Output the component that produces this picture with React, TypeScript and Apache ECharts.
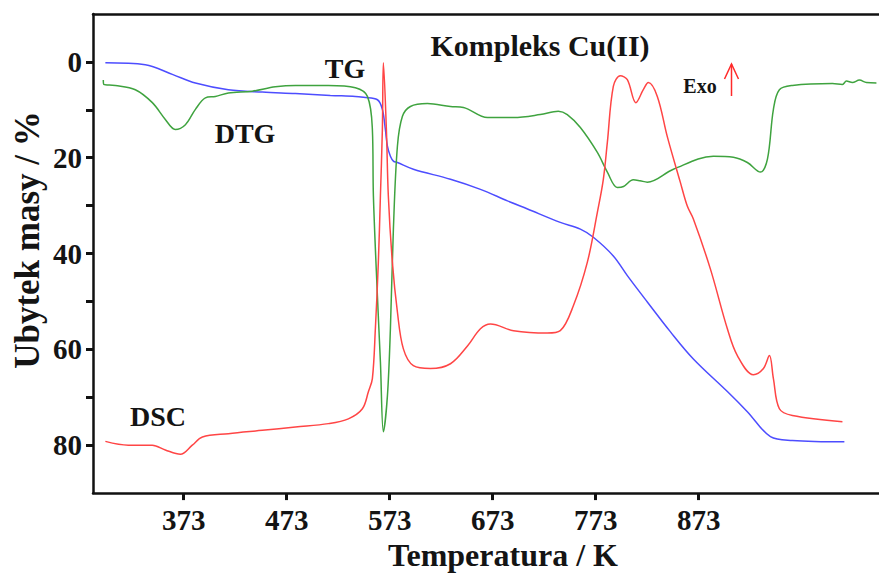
import React, { useEffect, useRef } from "react";
import * as echarts from "echarts";

// Temperature (K) and values (y-axis units, % mass loss scale)
const tgT = [297, 335.8, 362, 384.4, 416.4, 449.4, 481.5, 515.4, 539.7, 547.5, 561.1, 565.9, 568.8, 570.8, 573.7, 576.6, 580.5, 596, 632, 661.1, 687.3, 706.8, 738.6, 758.1, 770.7, 790.1, 803.7, 823.1, 845.4, 867.8, 900.8, 920.2, 942.6, 963.9, 1014.4];
const tgV = [0.2, 0.6, 2.6, 4.4, 5.8, 6.3, 6.6, 7.0, 7.2, 7.4, 7.9, 9.9, 14.1, 17.6, 19.7, 20.7, 21.0, 22.4, 24.5, 26.6, 29.0, 30.7, 33.5, 34.9, 36.6, 40.5, 44.6, 50.1, 56.3, 62.0, 68.8, 73.0, 78.2, 79.0, 79.3];

const dtgT = [295, 295.5, 306.7, 326.1, 342.6, 355.2, 364.9, 374.7, 384.4, 394.1, 403.8, 416.4, 439.7, 462, 481.5, 513.5, 539.7, 551.4, 556.2, 557.2, 561.1, 564, 566.9, 570.8, 573.7, 576.6, 580.5, 585.3, 593.1, 609.6, 632, 644.6, 667.9, 693.2, 719.2, 736.7, 745.4, 758.1, 774.6, 784.3, 794, 800, 809.5, 816, 823.1, 848.4, 887.2, 906.6, 920.2, 932.9, 939.7, 945.5, 951.3, 963.9, 1002.8, 1012.5, 1016.4, 1022.2, 1029, 1035.8, 1045.5];
const dtgV = [3.8, 4.7, 4.9, 5.8, 8.5, 12.0, 14.1, 13.1, 9.9, 7.5, 7.2, 6.5, 6.1, 5.2, 4.9, 4.9, 5.4, 7.2, 14.1, 28.0, 48.9, 62.6, 77.2, 69.7, 55.7, 34.9, 17.6, 11.4, 9.3, 8.7, 9.3, 9.5, 11.6, 11.6, 11.0, 10.3, 11.0, 13.7, 18.9, 23.0, 26.2, 26.0, 24.6, 24.8, 25.1, 22.4, 19.7, 19.9, 21.0, 23.0, 20.3, 9.9, 5.8, 4.9, 4.5, 4.7, 4.0, 4.3, 3.8, 4.3, 4.4];

const dscT = [297, 319.3, 342.6, 355.2, 369.8, 381.4, 391.2, 416.4, 449.4, 481.5, 513.5, 532.9, 546.5, 552.4, 556.2, 559.1, 562, 564, 565.9, 566.9, 569.8, 571.7, 575.6, 580.5, 586.3, 596, 612.5, 632, 648.5, 661.1, 670.8, 693.2, 726, 738.6, 751.3, 764.9, 774.6, 780.4, 784.3, 790.1, 796.9, 803.7, 812, 819.2, 824.1, 832.8, 842.5, 855.1, 861.9, 867.8, 884.3, 900.8, 910.5, 926.1, 935.8, 941.6, 945.5, 951.3, 963.9, 1012.5];
const dscV = [79.2, 80, 80, 81, 81.9, 80, 78.3, 77.6, 76.9, 76.2, 75.5, 74.5, 72.4, 68.8, 66.1, 55.7, 41.8, 28, 14.1, 0.2, 14.1, 28, 41.8, 52.2, 59.9, 63.4, 64, 63, 59.3, 55.7, 54.7, 56.1, 56.6, 56.1, 50.9, 41.8, 31.4, 24.5, 16.8, 5.1, 2.9, 3.7, 8.5, 5.8, 4.3, 7.2, 15.6, 25.1, 30.1, 32.8, 43.2, 55.7, 61.3, 65.3, 64, 61.3, 66.1, 72.4, 73.8, 75.1];

const xTicks = [373, 473, 573, 673, 773, 873];
const yLabelTicks = [0, 20, 40, 60, 80];
const yMinorTicks = [0, 10, 20, 30, 40, 50, 60, 70, 80];

const zip = (a: number[], b: number[]) => a.map((v, i) => [v, b[i]]);

const FONT = "'Liberation Serif', 'Times New Roman', serif";
const TXT = "#141414";

export default function App() {
  const ref = useRef<HTMLDivElement>(null);
  useEffect(() => {
    if (!ref.current) return;
    const chart = echarts.init(ref.current, undefined, { renderer: "svg" });
    const lineStyleBase = { width: 1.5 };
    chart.setOption({
      animation: false,
      backgroundColor: "#ffffff",
      title: {
        text: "Kompleks Cu(II)",
        left: 535,
        top: 25,
        textAlign: "center",
        textStyle: { fontFamily: FONT, fontWeight: "bold", fontSize: 30, color: TXT },
      },
      grid: { left: 93, right: 0, top: 14, bottom: 80, containLabel: false },
      xAxis: [
        {
          type: "value",
          min: 285,
          max: 1048,
          position: "bottom",
          splitLine: { show: false },
          axisLine: { show: true, onZero: false, lineStyle: { color: "#111", width: 2.5 } },
          axisTick: { show: true, customValues: xTicks, inside: false, length: 7, lineStyle: { color: "#111", width: 3 } },
          axisLabel: {
            customValues: xTicks,
            margin: 12,
            fontFamily: FONT,
            fontWeight: "bold",
            fontSize: 29,
            color: TXT,
          },
          name: "Temperatura / K",
          nameLocation: "middle",
          nameGap: 44,
          nameTextStyle: { fontFamily: FONT, fontWeight: "bold", fontSize: 32, color: TXT, padding: [0, 0, 0, 34] },
        },
        {
          type: "value",
          min: 285,
          max: 1048,
          position: "top",
          splitLine: { show: false },
          axisLine: { show: true, onZero: false, lineStyle: { color: "#111", width: 2.5 } },
          axisTick: { show: false },
          axisLabel: { show: false },
        },
      ],
      yAxis: {
        type: "value",
        inverse: true,
        min: -10,
        max: 90,
        splitLine: { show: false },
        axisLine: { show: true, onZero: false, lineStyle: { color: "#111", width: 2.5 } },
        axisTick: { show: true, customValues: yMinorTicks, inside: false, length: 7, lineStyle: { color: "#111", width: 3 } },
        axisLabel: {
          customValues: yLabelTicks,
          margin: 11,
          fontFamily: FONT,
          fontWeight: "bold",
          fontSize: 29,
          color: TXT,
        },
      },
      graphic: [
        {
          type: "text",
          x: 27,
          y: 240,
          rotation: Math.PI / 2,
          style: { text: "Ubytek masy / %", fontFamily: FONT, fontWeight: "bold", fontSize: 35, fill: TXT, align: "center", verticalAlign: "middle" },
        },
        { type: "text", x: 345, y: 68, style: { text: "TG", fontFamily: FONT, fontWeight: "bold", fontSize: 28, fill: TXT, align: "center", verticalAlign: "middle" } },
        { type: "text", x: 245, y: 133, style: { text: "DTG", fontFamily: FONT, fontWeight: "bold", fontSize: 28, fill: TXT, align: "center", verticalAlign: "middle" } },
        { type: "text", x: 158, y: 416, style: { text: "DSC", fontFamily: FONT, fontWeight: "bold", fontSize: 28, fill: TXT, align: "center", verticalAlign: "middle" } },
        { type: "text", x: 700, y: 86, style: { text: "Exo", fontFamily: FONT, fontWeight: "bold", fontSize: 20, fill: TXT, align: "center", verticalAlign: "middle" } },
        { type: "line", shape: { x1: 731.5, y1: 64, x2: 731.5, y2: 96 }, style: { stroke: "#ff2a2a", lineWidth: 1.5 } },
        { type: "polyline", shape: { points: [[724.5, 79], [731.5, 64], [738.5, 79]] }, style: { stroke: "#ff2a2a", lineWidth: 1.5, fill: "none" } },
      ],
      series: [
        {
          name: "TG",
          type: "line",
          data: zip(tgT, tgV),
          showSymbol: false,
          smooth: 0.35,
          lineStyle: { ...lineStyleBase, color: "#4d4dff" },
          itemStyle: { color: "#4d4dff" },
        },
        {
          name: "DTG",
          type: "line",
          data: zip(dtgT, dtgV),
          showSymbol: false,
          smooth: 0.35,
          lineStyle: { ...lineStyleBase, color: "#3fa33f" },
          itemStyle: { color: "#3fa33f" },
        },
        {
          name: "DSC",
          type: "line",
          data: zip(dscT, dscV),
          showSymbol: false,
          smooth: 0.35,
          lineStyle: { ...lineStyleBase, color: "#ff4545" },
          itemStyle: { color: "#ff4545" },
        },
      ],
    });
    return () => chart.dispose();
  }, []);
  return <div ref={ref} style={{ position: "absolute", left: 0, top: 0, width: 879, height: 576 }} />;
}
